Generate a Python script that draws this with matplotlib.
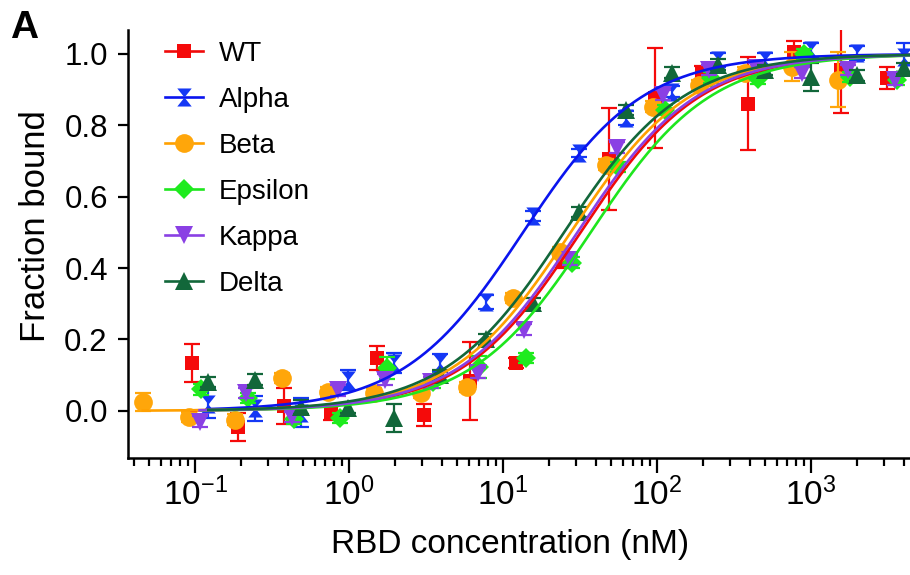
import numpy as np
import matplotlib
matplotlib.use("Agg")
import matplotlib.pyplot as plt
from matplotlib.path import Path
from matplotlib.lines import Line2D

plt.rcParams['font.family'] = ['Liberation Sans', 'DejaVu Sans']
plt.rcParams['mathtext.fontset'] = 'custom'
plt.rcParams['mathtext.rm'] = 'Liberation Sans'
plt.rcParams['mathtext.it'] = 'Liberation Sans:italic'
plt.rcParams['mathtext.bf'] = 'Liberation Sans:bold'
plt.rcParams['axes.unicode_minus'] = False

# ---------------- data ----------------
series_names = ["WT", "Alpha", "Beta", "Epsilon", "Kappa", "Delta"]

conc_wt = [0.095, 0.19, 0.38, 0.76, 1.53, 3.05, 6.1, 12.2, 24.4, 48.8, 97.7, 195, 390, 781, 1562, 3125]
frac_wt = [0.134, -0.045, 0.013, -0.005, 0.148, -0.011, 0.084, 0.134, 0.42, 0.706, 0.877, 0.947, 0.861, 1.005, 0.954, 0.933]
err_wt = [0.053, 0.04, 0.05, 0.02, 0.034, 0.03, 0.11, 0.015, 0.02, 0.143, 0.14, 0.02, 0.13, 0.03, 0.12, 0.03]

conc_alpha = [0.122, 0.244, 0.49, 0.98, 1.95, 3.9, 7.8, 15.6, 31.25, 62.5, 125, 250, 500, 1000, 2000, 4000]
frac_alpha = [0.02, 0.008, -0.005, 0.087, 0.134, 0.134, 0.306, 0.546, 0.722, 0.82, 0.894, 0.983, 0.983, 1.01, 1.003, 0.99]
err_alpha = [0.04, 0.035, 0.04, 0.028, 0.028, 0.025, 0.02, 0.015, 0.012, 0.02, 0.015, 0.02, 0.02, 0.02, 0.02, 0.04]

conc_beta = [0.0458, 0.0916, 0.183, 0.366, 0.73, 1.46, 2.93, 5.86, 11.7, 23.4, 46.9, 93.75, 187.5, 375, 750, 1500]
frac_beta = [0.026, -0.017, -0.025, 0.092, 0.053, 0.05, 0.05, 0.067, 0.316, 0.445, 0.69, 0.852, 0.913, 0.947, 0.964, 0.927]
err_beta = [0.025, 0.015, 0.015, 0.015, 0.015, 0.015, 0.015, 0.015, 0.015, 0.015, 0.015, 0.015, 0.015, 0.015, 0.04, 0.077]

conc_eps = [0.11, 0.22, 0.44, 0.88, 1.76, 3.52, 7.03, 14.06, 28.1, 56.25, 112.5, 225, 450, 900, 1800, 3600]
frac_eps = [0.06, 0.036, -0.022, -0.02, 0.12, 0.08, 0.123, 0.148, 0.415, 0.683, 0.843, 0.933, 0.93, 1.0, 0.935, 0.927]
err_eps = [0.015, 0.015, 0.015, 0.015, 0.03, 0.015, 0.03, 0.015, 0.015, 0.015, 0.015, 0.015, 0.015, 0.015, 0.015, 0.015]

conc_kappa = [0.107, 0.214, 0.427, 0.854, 1.71, 3.42, 6.84, 13.67, 27.3, 54.7, 109.4, 218.75, 437.5, 875, 1750, 3500]
frac_kappa = [-0.03, 0.05, -0.017, 0.058, 0.087, 0.08, 0.106, 0.227, 0.423, 0.737, 0.885, 0.955, 0.96, 0.947, 0.955, 0.927]
err_kappa = [0.015] * 16

conc_delta = [0.122, 0.244, 0.49, 0.98, 1.95, 3.9, 7.8, 15.6, 31.25, 62.5, 125, 250, 500, 1000, 2000, 4000]
frac_delta = [0.081, 0.087, 0.01, 0.008, -0.02, 0.1, 0.2, 0.302, 0.557, 0.843, 0.947, 0.97, 0.955, 0.935, 0.94, 0.96]
err_delta = [0.015, 0.015, 0.02, 0.015, 0.04, 0.015, 0.015, 0.015, 0.015, 0.015, 0.015, 0.015, 0.015, 0.04, 0.015, 0.015]

# fitted binding parameters (Kd in nM, shared Hill slope)
kd_fit = [31.9, 13.5, 27.5, 37.1, 30.4, 24.9]
hill_fit = 1.12

# ---------------- styles ----------------
hour = Path([(-0.8, 1), (0.8, 1), (0, 0), (-0.8, 1),
             (-0.8, -1), (0.8, -1), (0, 0), (-0.8, -1)],
            [Path.MOVETO, Path.LINETO, Path.LINETO, Path.CLOSEPOLY,
             Path.MOVETO, Path.LINETO, Path.LINETO, Path.CLOSEPOLY])

colors = ["#F50A0A", "#1538F5", "#FFA60A", "#1EEB1E", "#8A40E4", "#12673A"]
line_colors = ["#F00A0A", "#0A14EE", "#FFA000", "#1EE61E", "#8A40E4", "#12673A"]
markers = ["s", hour, "o", "D", "v", "^"]
msizes = [10.5, 13, 13.5, 10.5, 13, 13]

concs = [conc_wt, conc_alpha, conc_beta, conc_eps, conc_kappa, conc_delta]
fracs = [frac_wt, frac_alpha, frac_beta, frac_eps, frac_kappa, frac_delta]
errs = [err_wt, err_alpha, err_beta, err_eps, err_kappa, err_delta]

fig = plt.figure(figsize=(9.10, 5.75), dpi=100)
ax = fig.add_axes([128 / 910, 1 - 458 / 575, 1 - 128 / 910, (458 - 30) / 575])

for i in range(6):
    ax.errorbar(concs[i], fracs[i], yerr=errs[i], fmt='none', ecolor=colors[i],
                elinewidth=1.6, capsize=5.5, capthick=1.6, zorder=2 + i * 0.1)
    ax.plot(concs[i], fracs[i], linestyle='none', marker=markers[i], ms=msizes[i],
            color=colors[i], markeredgewidth=0, zorder=2.05 + i * 0.1)

for i in range(6):
    xx = np.logspace(np.log10(min(concs[i])), np.log10(6000), 400)
    yy = xx ** hill_fit / (kd_fit[i] ** hill_fit + xx ** hill_fit)
    ax.plot(xx, yy, color=line_colors[i], lw=1.9, zorder=3 + i * 0.1)

ax.set_xscale('log')
ax.set_xlim(0.0367, 4400)
ax.set_ylim(-0.132, 1.067)
ax.set_yticks([0.0, 0.2, 0.4, 0.6, 0.8, 1.0])
ax.set_yticklabels(["0.0", "0.2", "0.4", "0.6", "0.8", "1.0"])
ax.set_xticks([0.1, 1, 10, 100, 1000])

for s in ['top', 'right']:
    ax.spines[s].set_visible(False)
for s in ['left', 'bottom']:
    ax.spines[s].set_linewidth(1.8)

ax.tick_params(axis='y', which='major', direction='out', length=7.5, width=1.6,
               labelsize=22.5, pad=7)
ax.tick_params(axis='x', which='major', direction='out', length=11, width=1.6,
               labelsize=24, pad=3)
ax.tick_params(axis='x', which='minor', direction='out', length=6, width=1.6)

ax.set_xlabel("RBD concentration (nM)", fontsize=24)
ax.set_ylabel("Fraction bound", fontsize=25)
ax.xaxis.set_label_coords(0.488, -0.166)
ax.yaxis.set_label_coords(-0.097, 0.541)

handles = [Line2D([0], [0], color=line_colors[i], lw=1.9, marker=markers[i],
                  ms=msizes[i], markerfacecolor=colors[i], markeredgewidth=0)
           for i in range(6)]
leg = ax.legend(handles, series_names, loc='upper left', frameon=False,
                fontsize=20, handlelength=1.35, handletextpad=0.6,
                labelspacing=0.72, borderpad=0, borderaxespad=0,
                bbox_to_anchor=(165 / 910, 1 - 41 / 575),
                bbox_transform=fig.transFigure)

fig.text(10 / 910, 1 - 10 / 575, "A", fontsize=28, fontweight='bold', va='top', ha='left')

fig.savefig("out.png", dpi=100)
